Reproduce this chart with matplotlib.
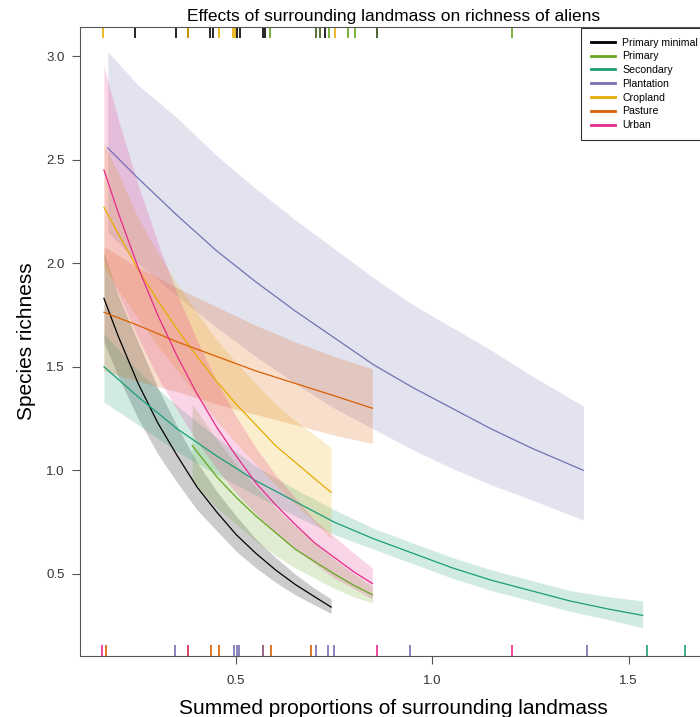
import matplotlib
matplotlib.use("Agg")
import matplotlib.pyplot as plt
from matplotlib.lines import Line2D

plt.rcParams["font.family"] = ["Liberation Sans", "DejaVu Sans"]

# ---- fitted curves with confidence bands ----
pm_x = [0.163, 0.20, 0.25, 0.30, 0.35, 0.40, 0.45, 0.50, 0.55, 0.60, 0.65, 0.70, 0.742]
pm_y = [1.83, 1.645, 1.42, 1.23, 1.07, 0.92, 0.80, 0.69, 0.60, 0.52, 0.45, 0.39, 0.34]
pm_hi = [2.05, 1.84, 1.62, 1.40, 1.21, 1.04, 0.90, 0.78, 0.67, 0.58, 0.50, 0.43, 0.38]
pm_lo = [1.62, 1.45, 1.25, 1.08, 0.94, 0.81, 0.71, 0.61, 0.53, 0.46, 0.40, 0.35, 0.31]

pr_x = [0.388, 0.45, 0.50, 0.55, 0.60, 0.65, 0.70, 0.75, 0.80, 0.847]
pr_y = [1.12, 0.97, 0.87, 0.78, 0.70, 0.62, 0.56, 0.50, 0.445, 0.40]
pr_hi = [1.32, 1.15, 1.03, 0.92, 0.82, 0.73, 0.65, 0.57, 0.50, 0.44]
pr_lo = [0.95, 0.82, 0.74, 0.66, 0.59, 0.53, 0.48, 0.43, 0.39, 0.36]

se_x = [0.163, 0.25, 0.35, 0.45, 0.55, 0.65, 0.75, 0.85, 0.95, 1.05, 1.15,
        1.25, 1.35, 1.45, 1.536]
se_y = [1.50, 1.355, 1.20, 1.07, 0.95, 0.85, 0.75, 0.67, 0.60, 0.53, 0.47,
        0.42, 0.37, 0.33, 0.30]
se_hi = [1.66, 1.48, 1.31, 1.16, 1.02, 0.91, 0.81, 0.72, 0.65, 0.58, 0.52,
         0.47, 0.42, 0.39, 0.37]
se_lo = [1.33, 1.22, 1.09, 0.98, 0.88, 0.78, 0.69, 0.62, 0.55, 0.48, 0.42,
         0.37, 0.32, 0.28, 0.24]

pl_x = [0.173, 0.25, 0.35, 0.45, 0.55, 0.65, 0.75, 0.85, 0.95, 1.05, 1.15,
        1.25, 1.385]
pl_y = [2.556, 2.41, 2.23, 2.06, 1.91, 1.77, 1.64, 1.51, 1.40, 1.30, 1.20,
        1.11, 1.00]
pl_hi = [3.02, 2.86, 2.70, 2.52, 2.36, 2.21, 2.07, 1.93, 1.80, 1.69, 1.58,
         1.46, 1.31]
pl_lo = [2.15, 2.00, 1.84, 1.69, 1.55, 1.42, 1.30, 1.20, 1.10, 1.01, 0.93,
         0.86, 0.76]

cr_x = [0.163, 0.20, 0.25, 0.30, 0.35, 0.40, 0.45, 0.50, 0.55, 0.60, 0.65, 0.70, 0.742]
cr_y = [2.27, 2.14, 1.97, 1.82, 1.68, 1.55, 1.43, 1.32, 1.22, 1.12, 1.04, 0.96, 0.894]
cr_hi = [2.58, 2.43, 2.22, 2.05, 1.90, 1.76, 1.63, 1.52, 1.42, 1.32, 1.24, 1.17, 1.11]
cr_lo = [1.98, 1.87, 1.73, 1.60, 1.48, 1.36, 1.24, 1.13, 1.03, 0.93, 0.84, 0.75, 0.67]

pa_x = [0.163, 0.25, 0.35, 0.45, 0.55, 0.65, 0.75, 0.847]
pa_y = [1.763, 1.70, 1.62, 1.55, 1.48, 1.42, 1.36, 1.30]
pa_hi = [2.08, 1.98, 1.88, 1.79, 1.70, 1.62, 1.55, 1.49]
pa_lo = [1.48, 1.43, 1.38, 1.32, 1.27, 1.22, 1.17, 1.13]

ur_x = [0.163, 0.20, 0.25, 0.30, 0.35, 0.40, 0.45, 0.50, 0.55, 0.60, 0.65,
        0.70, 0.75, 0.80, 0.847]
ur_y = [2.45, 2.24, 1.98, 1.75, 1.55, 1.37, 1.21, 1.07, 0.94, 0.835, 0.74,
        0.65, 0.58, 0.51, 0.454]
ur_hi = [2.95, 2.69, 2.38, 2.10, 1.85, 1.63, 1.43, 1.26, 1.11, 0.98, 0.87,
         0.76, 0.68, 0.60, 0.53]
ur_lo = [2.02, 1.85, 1.64, 1.45, 1.29, 1.14, 1.01, 0.89, 0.79, 0.70, 0.62,
         0.55, 0.48, 0.43, 0.38]

labels = ["Primary minimal", "Primary", "Secondary", "Plantation",
          "Cropland", "Pasture", "Urban"]
colors = ["#000000", "#66A61E", "#1B9E77", "#7570B3",
          "#E6AB02", "#D95F02", "#E7298A"]

# ---- rugs ----
top_rug_x = [0.161, 0.242, 0.347, 0.378, 0.378, 0.434, 0.441, 0.457, 0.492,
             0.497, 0.503, 0.510, 0.569, 0.574, 0.587, 0.704, 0.714, 0.727,
             0.737, 0.753, 0.786, 0.804, 0.860, 1.202]
top_rug_c = ["#E6AB02", "#000000", "#000000", "#000000", "#E6AB02", "#000000",
             "#000000", "#E6AB02", "#E6AB02", "#E6AB02", "#000000", "#000000",
             "#000000", "#000000", "#66A61E", "#3a5a10", "#3a5a10", "#000000",
             "#66A61E", "#E6AB02", "#66A61E", "#66A61E", "#2d4a10", "#66A61E"]

bot_rug_x = [0.158, 0.168, 0.344, 0.378, 0.436, 0.457, 0.495, 0.503, 0.508,
             0.569, 0.589, 0.691, 0.704, 0.735, 0.750, 0.860, 0.944, 1.202,
             1.393, 1.548, 1.643]
bot_rug_c = ["#E7298A", "#D95F02", "#7570B3", "#D0204A", "#D95F02", "#D95F02",
             "#7570B3", "#7570B3", "#7570B3", "#8a4a70", "#D95F02", "#D95F02",
             "#7570B3", "#7570B3", "#7570B3", "#E7298A", "#7570B3", "#E7298A",
             "#7570B3", "#1B9E77", "#1B9E77"]

series = [
    (pm_x, pm_y, pm_lo, pm_hi),
    (pr_x, pr_y, pr_lo, pr_hi),
    (se_x, se_y, se_lo, se_hi),
    (pl_x, pl_y, pl_lo, pl_hi),
    (cr_x, cr_y, cr_lo, cr_hi),
    (pa_x, pa_y, pa_lo, pa_hi),
    (ur_x, ur_y, ur_lo, ur_hi),
]

fig = plt.figure(figsize=(7.0, 7.17), dpi=100)
# axes run past the right edge of the image, as in the reference crop
ax = fig.add_axes([80 / 700, 61 / 717, 627 / 700, 629 / 717])

for (x, y, lo, hi), c in zip(series, colors):
    ax.fill_between(x, lo, hi, color=c, alpha=0.2, lw=0)
for (x, y, lo, hi), c in zip(series, colors):
    ax.plot(x, y, color=c, lw=0.9)

xt = ax.get_xaxis_transform()
ax.vlines(top_rug_x, 0.982, 1.0, colors=top_rug_c, lw=1.2, transform=xt)
ax.vlines(bot_rug_x, 0.0, 0.018, colors=bot_rug_c, lw=1.2, transform=xt)

ax.set_xlim(0.102, 1.70)
ax.set_ylim(0.104, 3.14)
ax.set_xticks([0.5, 1.0, 1.5])
ax.set_yticks([0.5, 1.0, 1.5, 2.0, 2.5, 3.0])
ax.tick_params(length=6, width=0.8, color="#555555", labelcolor="#333333",
               labelsize=9.5, pad=5)
ax.tick_params(axis="x", pad=8)
for s in ax.spines.values():
    s.set_color("#555555")
    s.set_linewidth(0.8)

ax.set_xlabel("Summed proportions of surrounding landmass", fontsize=15, labelpad=8)
ax.set_ylabel("Species richness", fontsize=15, labelpad=7)
ax.set_title("Effects of surrounding landmass on richness of aliens",
             fontsize=12.5, pad=4)

handles = [Line2D([], [], color=c, lw=2) for c in colors]
leg = fig.legend(handles, labels, loc="upper left",
                 bbox_to_anchor=(581 / 700, 1 - 28 / 717),
                 fontsize=7.6, frameon=True, fancybox=False,
                 handlelength=2.3, handletextpad=0.7, labelspacing=0.36,
                 borderpad=0.9, borderaxespad=0)
leg.get_frame().set_edgecolor("#000000")
leg.get_frame().set_linewidth(0.8)

fig.savefig("out.png", dpi=100)
